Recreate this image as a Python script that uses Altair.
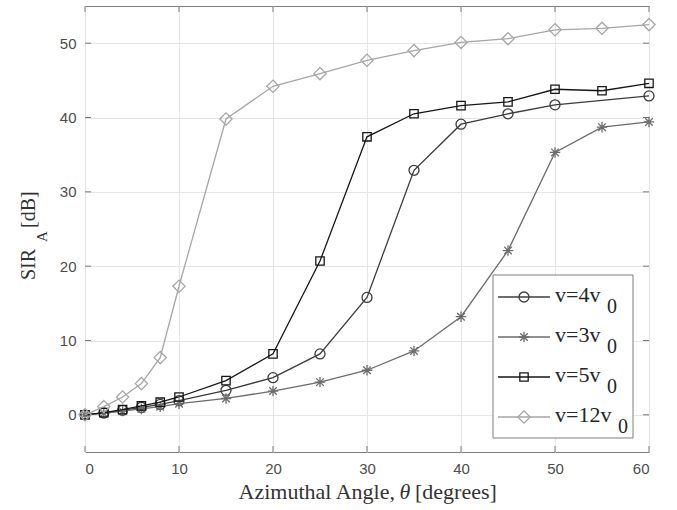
import altair as alt
import pandas as pd

# ---------------- data ----------------
angles = [0, 2, 4, 6, 8, 10, 15, 20, 25, 30, 35, 40, 45, 50, 55, 60]
angles_v4 = [0, 2, 4, 6, 8, 10, 15, 20, 25, 30, 35, 40, 45, 50, 60]
sir_v4 = [0, 0.25, 0.6, 1.0, 1.4, 1.9, 3.3, 5.0, 8.2, 15.8, 32.9, 39.1, 40.5, 41.7, 42.9]
sir_v3 = [0, 0.2, 0.5, 0.8, 1.1, 1.5, 2.2, 3.2, 4.4, 6.0, 8.6, 13.2, 22.1, 35.3, 38.7, 39.4]
sir_v5 = [0, 0.3, 0.7, 1.2, 1.7, 2.4, 4.6, 8.2, 20.7, 37.4, 40.5, 41.6, 42.1, 43.8, 43.6, 44.6]
sir_v12 = [0, 1.1, 2.4, 4.2, 7.7, 17.3, 39.8, 44.2, 45.9, 47.7, 49.0, 50.1, 50.6, 51.8, 52.0, 52.5]

legend_main = ["v=4v", "v=3v", "v=5v", "v=12v"]
legend_sub = ["0", "0", "0", "0"]
x_ticks = [0, 10, 20, 30, 40, 50, 60]
y_ticks = [0, 10, 20, 30, 40, 50]
x_title = ["Azimuthal Angle,", "θ", "[degrees]"]
y_title = ["SIR", "A", "[dB]"]

# ---------------- layout / style ----------------
W, H = 564, 446
SERIF = "Liberation Serif"
SANS = "Liberation Sans"
ASTERISK = "M-1,0L1,0M0,-1L0,1M-0.72,-0.72L0.72,0.72M-0.72,0.72L0.72,-0.72"

series = [
    (angles_v4, sir_v4, "#3c3c3c", "circle", 100),
    (angles, sir_v3, "#6c6c6c", ASTERISK, 110),
    (angles, sir_v5, "#161616", "square", 70),
    (angles, sir_v12, "#a6a6a6", "diamond", 150),
]

xscale = alt.Scale(domain=[0, 60], nice=False, zero=False)
yscale = alt.Scale(domain=[-5, 55], nice=False, zero=False)

layers = []

# base layer with axes + grid
first = pd.DataFrame({"x": angles, "y": sir_v3})
base = alt.Chart(first).mark_point(opacity=0).encode(
    x=alt.X("x:Q", scale=xscale,
            axis=alt.Axis(values=x_ticks, title=None, grid=True, labelPadding=9)),
    y=alt.Y("y:Q", scale=yscale,
            axis=alt.Axis(values=y_ticks, title=None, grid=True, labelPadding=9)),
)
layers.append(base)

# inward ticks on all four sides
xt = pd.DataFrame({"x": x_ticks})
yt = pd.DataFrame({"y": y_ticks})
tick_col = "#7a7a7a"
layers.append(alt.Chart(xt).mark_rule(color=tick_col, strokeWidth=1).encode(
    x=alt.X("x:Q", scale=xscale), y=alt.value(H), y2=alt.value(H - 6)))
layers.append(alt.Chart(xt).mark_rule(color=tick_col, strokeWidth=1).encode(
    x=alt.X("x:Q", scale=xscale), y=alt.value(0), y2=alt.value(6)))
layers.append(alt.Chart(yt).mark_rule(color=tick_col, strokeWidth=1).encode(
    y=alt.Y("y:Q", scale=yscale), x=alt.value(0), x2=alt.value(6)))
layers.append(alt.Chart(yt).mark_rule(color=tick_col, strokeWidth=1).encode(
    y=alt.Y("y:Q", scale=yscale), x=alt.value(W), x2=alt.value(W - 6)))

# data series
for xs, ys, col, shape, size in series:
    df = pd.DataFrame({"x": xs, "y": ys})
    enc = dict(x=alt.X("x:Q", scale=xscale), y=alt.Y("y:Q", scale=yscale))
    layers.append(alt.Chart(df).mark_line(color=col, strokeWidth=1.3).encode(**enc))
    layers.append(alt.Chart(df).mark_point(
        shape=shape, size=size, filled=False, color=col, strokeWidth=1.3, opacity=1
    ).encode(**enc))

# legend box
box = pd.DataFrame({"k": [0]})
layers.append(alt.Chart(box).mark_rect(fill="white", stroke="#7f7f7f", strokeWidth=1).encode(
    x=alt.value(408), x2=alt.value(548), y=alt.value(269), y2=alt.value(432)))

row_y = [291, 331, 371, 411]
sub_x = [522, 522, 522, 533]
for i, (xs, ys, col, shape, size) in enumerate(series):
    ry = row_y[i]
    d = pd.DataFrame({"main": [legend_main[i]], "sub": [legend_sub[i]]})
    layers.append(alt.Chart(d).mark_rule(color=col, strokeWidth=1.3).encode(
        x=alt.value(413), x2=alt.value(465), y=alt.value(ry)))
    layers.append(alt.Chart(d).mark_point(
        shape=shape, size=size, filled=False, color=col, strokeWidth=1.3, opacity=1
    ).encode(x=alt.value(439), y=alt.value(ry)))
    layers.append(alt.Chart(d).mark_text(
        align="left", baseline="alphabetic", font=SERIF, fontSize=22, color="#262626"
    ).encode(x=alt.value(470), y=alt.value(ry + 5), text="main:N"))
    layers.append(alt.Chart(d).mark_text(
        align="left", baseline="alphabetic", font=SERIF, fontSize=20, color="#262626"
    ).encode(x=alt.value(sub_x[i]), y=alt.value(ry + 16), text="sub:N"))

# x-axis title
tcol = "#333333"
xt1 = pd.DataFrame({"t": [x_title[0]]})
xt2 = pd.DataFrame({"t": [x_title[1]]})
xt3 = pd.DataFrame({"t": [x_title[2]]})
layers.append(alt.Chart(xt1).mark_text(align="right", baseline="alphabetic", font=SERIF,
                                       fontSize=22, color=tcol).encode(
    x=alt.value(310), y=alt.value(493), text="t:N"))
layers.append(alt.Chart(xt2).mark_text(align="center", baseline="alphabetic", font=SERIF,
                                       fontSize=22, fontStyle="italic", color=tcol).encode(
    x=alt.value(320), y=alt.value(493), text="t:N"))
layers.append(alt.Chart(xt3).mark_text(align="left", baseline="alphabetic", font=SERIF,
                                       fontSize=22, color=tcol).encode(
    x=alt.value(330), y=alt.value(493), text="t:N"))

# y-axis title (rotated)
yt1 = pd.DataFrame({"t": [y_title[0]]})
yt2 = pd.DataFrame({"t": [y_title[1]]})
yt3 = pd.DataFrame({"t": [y_title[2]]})
layers.append(alt.Chart(yt1).mark_text(align="left", baseline="alphabetic", font=SERIF,
                                       fontSize=20, angle=270, color=tcol).encode(
    x=alt.value(-50), y=alt.value(274), text="t:N"))
layers.append(alt.Chart(yt2).mark_text(align="left", baseline="alphabetic", font=SERIF,
                                       fontSize=15, angle=270, color=tcol).encode(
    x=alt.value(-38), y=alt.value(236), text="t:N"))
layers.append(alt.Chart(yt3).mark_text(align="left", baseline="alphabetic", font=SERIF,
                                       fontSize=20, angle=270, color=tcol).encode(
    x=alt.value(-50), y=alt.value(222), text="t:N"))

chart = alt.layer(*layers).properties(
    width=W, height=H,
    autosize=alt.AutoSizeParams(type="none"),
    padding={"left": 85, "top": 6, "right": 28, "bottom": 58},
    background="white",
).configure_view(
    stroke="#7f7f7f", strokeWidth=1
).configure_axis(
    domain=False, ticks=False, gridColor="#e6e6e6", gridWidth=1,
    labelFont=SANS, labelFontSize=15, labelColor="#4d4d4d",
)

chart.save("out.html", embed_options={"renderer": "svg", "actions": False})
